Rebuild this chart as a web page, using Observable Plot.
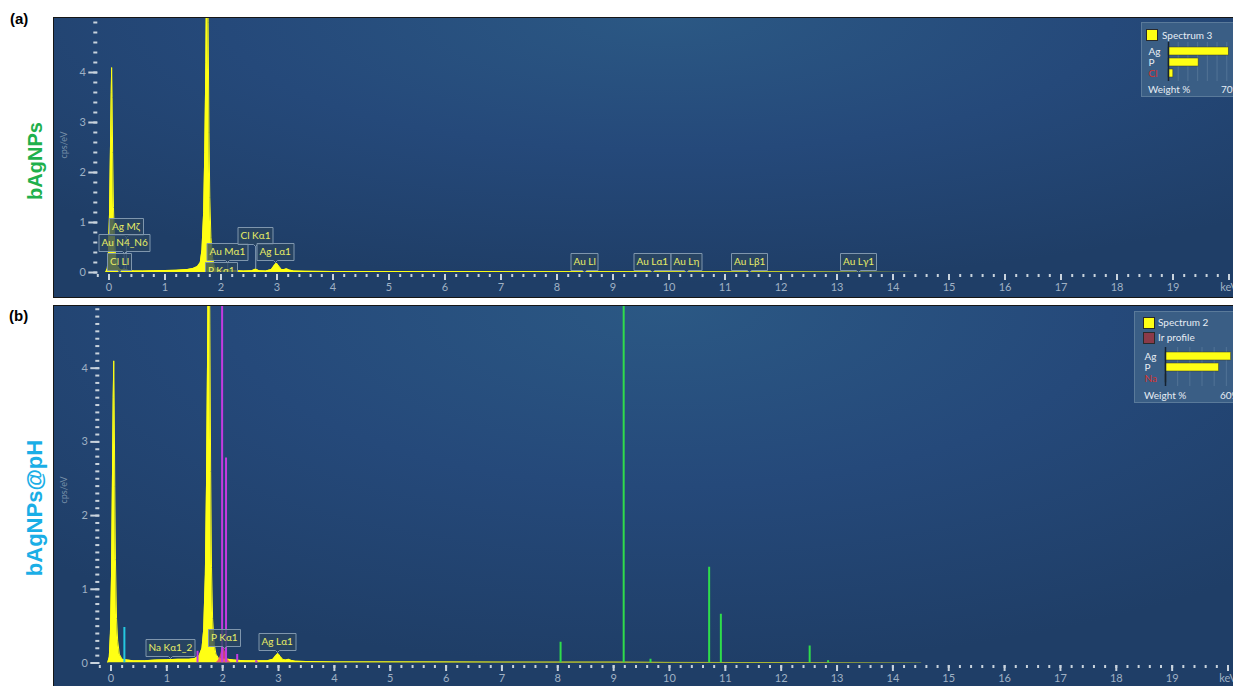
<!DOCTYPE html>
<html>
<head>
<meta charset="utf-8">
<script src="https://cdn.jsdelivr.net/npm/d3@7"></script>
<script src="https://cdn.jsdelivr.net/npm/@observablehq/plot@0.6"></script>
<style>
  body { margin: 0; background: #fff; }
  #root { position: relative; width: 1233px; height: 686px; overflow: hidden; background: #fff; }
  .panel { position: absolute; left: 54px; width: 1179px; outline: 1px solid #161616; overflow: hidden;
    background: radial-gradient(ellipse 75% 95% at 52% 0%, #2b5884 0%, #25497a 50%, #1f3e67 100%); }
  .tag { position: absolute; font: bold 15px "Liberation Sans", Arial, sans-serif; color: #000; line-height: 1; }
  .side { position: absolute; font: bold 20px "Liberation Sans", Arial, sans-serif; white-space: nowrap; line-height: 1;
    transform: translate(-50%, -50%) rotate(-90deg); }
  .unit { position: absolute; font: 9px "Lato", sans-serif; color: #7890a9; white-space: nowrap; line-height: 1;
    transform: translate(-50%, -50%) rotate(-90deg); }
  .spec g[aria-label="tip"] text, .spec g[aria-label="tip"] tspan { fill: #e8ee66 !important; stroke: none !important; }
  .legend { position: absolute; background: #3a5e85; border: 1px solid #5a7a9a; color: #e6edf4;
    font: 10px "Lato", sans-serif; overflow: hidden; }
  .legend .sw { position: absolute; width: 10px; height: 10px; border: 1px solid #2a2a2a; }
  .legend .t { position: absolute; line-height: 12px; white-space: nowrap; }
  .legend svg { position: absolute; }
</style>
</head>
<body>
<div id="root">
  <div class="tag" style="left:10px; top:11px;">(a)</div>
  <div class="tag" style="left:9px; top:308px;">(b)</div>
  <div class="side" style="left:35px; top:161px; color:#1fb04c;">bAgNPs</div>
  <div class="side" style="left:35px; top:508px; color:#1aaee6; font-size:22px;">bAgNPs@pH</div>
  <div class="panel spec" id="pa" style="top:18px; height:279px;"></div>
  <div class="panel spec" id="pb" style="top:306px; height:380px;"></div>
  <div class="unit" style="left:63px; top:145px;">cps/eV</div>
  <div class="unit" style="left:63px; top:490px;">cps/eV</div>
  <div class="legend" id="la" style="left:1141px; top:22px; width:110px; height:73px;"></div>
  <div class="legend" id="lb" style="left:1134px; top:311px; width:110px; height:90px;"></div>
</div>
<script>
// ---------- axis ticks ----------
const xMajor = [0,1,2,3,4,5,6,7,8,9,10,11,12,13,14,15,16,17,18,19,20];
const xMajorLabels = ["0","1","2","3","4","5","6","7","8","9","10","11","12","13","14","15","16","17","18","19","keV"];
const xMinor = d3.range(-0.2, 20.01, 0.2);
const yMajorA = [0,1,2,3,4];
const yMinorA = d3.range(0, 5.01, 0.2);
const yMajorB = [0,1,2,3,4];
const yMinorB = d3.range(0, 4.81, 0.1);

// ---------- panel (a) spectrum: energy (keV) and counts (cps/eV) ----------
const energyA = [-0.06,-0.03,-0.01,0.01,0.025,0.04,0.047,0.055,0.065,0.08,0.1,0.12,0.15,0.18,0.22,0.27,0.3,0.35,0.45,0.6,0.8,1.0,1.2,1.4,1.5,1.58,1.63,1.66,1.69,1.71,1.73,1.745,1.755,1.77,1.785,1.8,1.82,1.85,1.88,1.93,2.0,2.1,2.2,2.4,2.55,2.62,2.68,2.8,2.9,2.95,2.99,3.03,3.08,3.13,3.17,3.22,3.3,3.5,4,5,6,7,8,9,10,11,12,13,14.5];
const cpsA    = [0,0.08,0.4,1.2,2.4,3.6,4.1,3.5,2.4,1.3,0.6,0.3,0.14,0.08,0.05,0.07,0.06,0.04,0.03,0.03,0.035,0.04,0.045,0.06,0.08,0.12,0.2,0.45,1.2,2.4,4.2,6.5,7.5,5.0,2.8,1.5,0.7,0.3,0.12,0.06,0.04,0.045,0.04,0.03,0.035,0.07,0.035,0.03,0.06,0.14,0.19,0.13,0.06,0.06,0.075,0.05,0.03,0.025,0.02,0.02,0.018,0.016,0.016,0.014,0.012,0.01,0.008,0.006,0];

// ---------- panel (b) spectrum ----------
const energyB = [-0.06,-0.03,-0.01,0.01,0.025,0.04,0.05,0.058,0.068,0.08,0.1,0.12,0.15,0.2,0.3,0.4,0.6,0.8,1.0,1.2,1.4,1.5,1.58,1.63,1.66,1.69,1.71,1.73,1.745,1.755,1.77,1.785,1.8,1.82,1.85,1.88,1.93,2.0,2.1,2.2,2.4,2.6,2.8,2.9,2.95,2.99,3.03,3.08,3.13,3.18,3.23,3.3,3.5,4,5,6,7,8,9,10,11,12,13,14.5];
const cpsB    = [0,0.08,0.4,1.2,2.4,3.6,4.1,3.5,2.4,1.4,0.6,0.3,0.12,0.05,0.04,0.03,0.03,0.04,0.045,0.05,0.05,0.06,0.1,0.2,0.45,1.2,2.4,4.2,6.0,7.0,4.6,2.6,1.3,0.6,0.25,0.12,0.06,0.05,0.05,0.04,0.03,0.03,0.03,0.05,0.1,0.13,0.09,0.045,0.04,0.05,0.035,0.025,0.02,0.015,0.014,0.012,0.011,0.01,0.01,0.008,0.007,0.006,0.004,0];

// pink reconstructed peak (panel b)
const energyPink = [1.88,1.92,1.96,1.99,2.015,2.04,2.07,2.1,2.14,2.18,2.58,2.62,2.66];
const cpsPink    = [0,0.03,0.1,0.19,0.21,0.17,0.1,0.04,0.01,0,0,0.025,0];

// line markers (panel b)
const greenE = [8.05,9.18,9.66,10.71,10.92,12.51,12.84];
const greenH = [0.28,6.0,0.05,1.30,0.66,0.23,0.03];
const magentaE = [1.55,1.99,2.06,2.26,2.6];
const magentaH = [0.16,6.0,2.78,0.115,0.03];
const cyanE = [0.24];
const cyanH = [0.48];

// ---------- peak labels ----------
const labelsA = ["Ag Mζ","Au N4_N6","Cl Ll","Au Mα1","P Kα1","Cl Kα1","Ag Lα1","Au Ll","Au Lα1","Au Lη","Au Lβ1","Au Lγ1"];
const labelEA = [0.31,0.27,0.18,2.12,2.01,2.62,2.98,8.49,9.71,10.31,11.44,13.38];
const labelYA = [0.70,0.38,0.0,0.2,-0.18,0.52,0.2,0.01,0.01,0.01,0.01,0.01];
const leaderEA = [0.31,0.27,2.12,2.62];
const leaderFromA = [0.06,0.05,0.05,0.07];
const leaderToA = [0.70,0.38,0.2,0.52];

const labelsB = ["Na Kα1_2","P Kα1","Ag Lα1"];
const labelEB = [1.07,2.03,2.99];
const labelYB = [0.06,0.2,0.14];

// ---------- legends ----------
const legendA = {spectrum: "Spectrum 3", scaleMax: 70, scaleLabel: "70%"};
const elemsA = ["Ag","P","Cl"];
const weightsA = [62,31,5];
const legendB = {spectrum: "Spectrum 2", profile: "Ir profile", scaleMax: 60, scaleLabel: "60%"};
const elemsB = ["Ag","P","Na"];
const weightsB = [54,44,0.8];

// ---------- build tables ----------
const zip2 = (a, b, k1, k2) => a.map((v, i) => ({[k1]: v, [k2]: b[i]}));
const specA = zip2(energyA, cpsA, "e", "c");
const specB = zip2(energyB, cpsB, "e", "c");
const pink = zip2(energyPink, cpsPink, "e", "c");
const green = zip2(greenE, greenH, "e", "h");
const magenta = zip2(magentaE, magentaH, "e", "h");
const cyan = zip2(cyanE, cyanH, "e", "h");
const tipsA = labelsA.map((t, i) => ({t, e: labelEA[i], y: labelYA[i]}));
const tipsB = labelsB.map((t, i) => ({t, e: labelEB[i], y: labelYB[i]}));
const leadersA = leaderEA.map((e, i) => ({e, y1: leaderFromA[i], y2: leaderToA[i]}));

const YEL = "#ffff14";
const TICK = "#c9d3dd";
const LAB = "#9fb1c4";

function tipMark(data) {
  return Plot.tip(data, {x: "e", y: "y", title: "t", anchor: "bottom", pointerSize: 4, textPadding: 2.5,
    fontSize: 10, fontFamily: "Lato, sans-serif", fill: "#2a4560", fillOpacity: 0.78,
    stroke: "#7f96ad", strokeWidth: 1, pathFilter: "none", clip: true});
}
function axes(yMajor, yMinor, dyTick) {
  return [
    Plot.axisX({ticks: xMinor, tickSize: 3, fill: "none", stroke: TICK, strokeWidth: 2, dy: dyTick, label: null}),
    Plot.axisX({ticks: xMajor, tickSize: 6, tickPadding: 3, tickFormat: (d) => xMajorLabels[xMajor.indexOf(d)],
      stroke: TICK, strokeWidth: 2, fill: LAB, fontSize: 11, dy: dyTick, label: null}),
    Plot.axisY({ticks: yMinor, tickSize: 4, fill: "none", stroke: TICK, strokeWidth: 2, label: null}),
    Plot.axisY({ticks: yMajor, tickSize: 9, tickPadding: 3, tickFormat: (d) => String(d), stroke: TICK, strokeWidth: 2, fill: LAB, fontSize: 11, label: null})
  ];
}

const common = {style: {background: "transparent", fontFamily: "Lato, sans-serif", fontSize: "11px"}};

const plotA = Plot.plot({
  ...common,
  width: 1179, height: 279, marginLeft: 43.3, marginRight: 4.5, marginTop: 0, marginBottom: 25,
  x: {domain: [-0.2, 20], label: null}, y: {domain: [0, 5.08], label: null},
  marks: [
    Plot.areaY(specA, {x: "e", y: "c", fill: YEL, clip: true}),
    Plot.lineY(specA, {x: "e", y: "c", stroke: YEL, strokeWidth: 1, clip: true}),
    Plot.ruleX(leadersA, {x: "e", y1: "y1", y2: "y2", stroke: "#8ea4ba", strokeWidth: 1}),
    tipMark(tipsA),
    ...axes(yMajorA, yMinorA, 2)
  ]
});
document.getElementById("pa").append(plotA);

const plotB = Plot.plot({
  ...common,
  width: 1179, height: 380, marginLeft: 45.3, marginRight: 5.5, marginTop: 0, marginBottom: 23.5,
  x: {domain: [-0.2, 20], label: null}, y: {domain: [0, 4.837], label: null},
  marks: [
    Plot.areaY(specB, {x: "e", y: "c", fill: YEL, clip: true}),
    Plot.lineY(specB, {x: "e", y: "c", stroke: YEL, strokeWidth: 1, clip: true}),
    Plot.areaY(pink, {x: "e", y: "c", fill: "#e8467c", fillOpacity: 0.85, clip: true}),
    Plot.ruleX(cyan, {x: "e", y1: 0, y2: "h", stroke: "#25c8e0", strokeWidth: 2, clip: true}),
    Plot.ruleX(magenta, {x: "e", y1: 0, y2: "h", stroke: "#c43be0", strokeWidth: 2, clip: true}),
    Plot.ruleX(green, {x: "e", y1: 0, y2: "h", stroke: "#2fdc4b", strokeWidth: 2, clip: true}),
    tipMark(tipsB),
    ...axes(yMajorB, yMinorB, 2.5)
  ]
});
document.getElementById("pb").append(plotB);

// ---------- legends ----------
function addText(parent, txt, left, top, color) {
  const d = document.createElement("div");
  d.className = "t"; d.textContent = txt;
  d.style.left = left + "px"; d.style.top = top + "px";
  if (color) d.style.color = color;
  parent.append(d);
}
function addSwatch(parent, color, left, top) {
  const d = document.createElement("div");
  d.className = "sw"; d.style.background = color;
  d.style.left = left + "px"; d.style.top = top + "px";
  parent.append(d);
}
function barPlot(elems, weights, max, rangePx, rowH, labelOffset, marginLeft) {
  const rows = elems.map((el, i) => ({el, w: weights[i]}));
  const red = elems[2];
  return Plot.plot({
    width: marginLeft + rangePx + 2, height: rowH * elems.length,
    marginLeft, marginRight: 2, marginTop: 0, marginBottom: 0,
    x: {domain: [0, max], axis: null}, y: {domain: elems, axis: null, padding: 0.28},
    style: {background: "transparent", overflow: "visible", fontFamily: "Lato, sans-serif"},
    marks: [
      Plot.ruleX(d3.range(10, max + 0.1, 10), {stroke: "#a9bdd0", strokeOpacity: 0.22}),
      Plot.barX(rows, {x: "w", y: "el", fill: YEL, stroke: "#3a3a20", strokeWidth: 0.5}),
      Plot.ruleX([0], {stroke: "#152230", strokeWidth: 1.5}),
      Plot.text(elems.filter((e) => e !== red), {y: (d) => d, text: (d) => d, frameAnchor: "left", dx: -labelOffset, textAnchor: "start", fill: "#e8eef4", fontSize: 10}),
      Plot.text([red], {y: (d) => d, text: (d) => d, frameAnchor: "left", dx: -labelOffset, textAnchor: "start", fill: "#d8322e", fontSize: 10})
    ]
  });
}

const la = document.getElementById("la");
addSwatch(la, YEL, 4, 6);
addText(la, legendA.spectrum, 20, 6);
const ba = barPlot(elemsA, weightsA, legendA.scaleMax, 68, 13, 20, 21);
ba.style.left = "5px"; ba.style.top = "19px";
la.append(ba);
addText(la, "Weight %", 6, 60);
addText(la, legendA.scaleLabel, 79, 60);

const lb = document.getElementById("lb");
addSwatch(lb, YEL, 8, 5);
addText(lb, legendB.spectrum, 23, 4);
addSwatch(lb, "#8b3a48", 8, 20);
addText(lb, legendB.profile, 23, 19);
const bb = barPlot(elemsB, weightsB, legendB.scaleMax, 73, 13, 21, 26);
bb.style.left = "4px"; bb.style.top = "35px";
lb.append(bb);
addText(lb, "Weight %", 9, 77);
addText(lb, legendB.scaleLabel, 85, 77);
</script>
</body>
</html>
